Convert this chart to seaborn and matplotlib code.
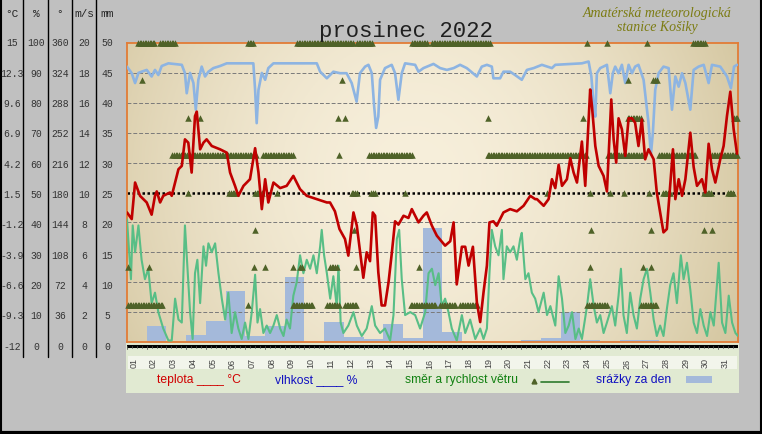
import numpy as np
import matplotlib
matplotlib.use("Agg")
import matplotlib.pyplot as plt
import seaborn as sns
from matplotlib.patches import Rectangle
from matplotlib.lines import Line2D

# ---- data ----
# temperature (°C), time in days since 1 Dec 00:00
temp_day = [0.00, 0.24, 0.41, 0.66, 1.00, 1.25, 1.42, 1.51, 1.68, 1.84, 2.18, 2.27, 2.44, 2.61, 2.78,
            2.94, 3.11, 3.28, 3.45, 3.54, 3.71, 3.88, 4.04, 4.30, 4.72, 5.06, 5.23, 5.48, 5.65, 5.91,
            6.24, 6.50, 6.67, 6.84, 7.01, 7.17, 7.43, 7.77, 8.10, 8.44, 8.78, 9.12, 9.63, 10.14, 10.30,
            10.55, 10.78, 11.06, 11.23, 11.49, 11.66, 11.91, 11.99, 12.16, 12.33, 12.47, 12.59, 12.75,
            12.92, 13.09, 13.27, 13.44, 13.60, 13.77, 14.03, 14.28, 14.45, 14.62, 14.79, 15.04, 15.21,
            15.47, 15.72, 16.14, 16.40, 16.57, 16.73, 16.99, 17.16, 17.33, 17.55, 17.75, 17.92, 18.09,
            18.26, 18.39, 18.59, 18.76, 19.10, 19.44, 19.78, 20.12, 20.46, 20.71, 20.80, 21.14, 21.39,
            21.56, 21.73, 21.90, 22.07, 22.32, 22.49, 22.66, 22.83, 23.08, 23.25, 23.42, 23.50, 23.59,
            23.76, 23.93, 24.18, 24.35, 24.57, 24.69, 24.82, 24.94, 25.11, 25.28, 25.45, 25.62, 25.78,
            25.95, 26.12, 26.29, 26.46, 26.72, 26.88, 27.05, 27.22, 27.39, 27.56, 27.70, 27.82, 27.99,
            28.16, 28.33, 28.58, 28.75, 28.92, 29.17, 29.34, 29.51, 29.68, 29.85, 30.10, 30.27, 30.44,
            30.61, 30.78, 30.95]
temp_c = [-0.3, -0.9, 2.4, 1.2, 0.6, -0.5, 1.2, 1.6, 0.6, 1.2, 1.5, 1.2, 2.4, 3.6, 3.9,
          6.3, 6.0, 3.3, 8.4, 8.8, 5.4, 6.0, 6.3, 5.7, 5.4, 5.1, 3.3, 2.1, 1.2, 2.1,
          2.7, 5.5, 3.3, 0.0, 2.7, 0.6, 2.4, 1.9, 2.1, 3.0, 1.8, 1.2, 0.9, 0.6, 0.6,
          -0.2, -1.8, -2.7, -4.2, -0.3, -1.5, -5.1, -6.2, -3.9, -4.7, -0.3, -0.6, -5.7,
          -8.7, -8.7, -6.6, -3.9, -1.1, -1.4, -0.6, -0.8, 0.0, -0.6, -1.2, -0.6, -0.3,
          -1.5, -2.4, -3.3, -2.9, -1.2, -6.8, -3.4, -3.4, -5.1, -3.4, -8.4, -10.2, -7.5,
          -5.1, -1.2, -1.1, -1.5, -0.3, 0.0, -0.2, 0.3, 1.2, 0.9, 0.9, 0.3, 0.9,
          2.7, 1.9, 4.0, 2.1, 2.7, 4.6, 3.3, 2.4, 6.1, 2.1, 8.1, 10.8, 9.3,
          5.7, 3.9, 3.0, 1.6, 9.9, 6.3, 4.2, 8.2, 7.2, 4.8, 8.2, 8.2, 7.8,
          5.7, 8.1, 4.5, 5.4, 4.5, 1.5, -0.3, -2.1, -1.8, 2.1, 5.4, 0.9, 2.7,
          1.2, 2.7, 6.9, 3.8, 2.1, 2.7, 1.5, 5.9, 3.6, 2.4, 4.5, 5.7, 8.4,
          10.6, 7.2, 5.0]

# relative humidity (%)
hum_day = [0.00, 0.24, 0.41, 0.58, 0.74, 1.00, 1.25, 1.42, 1.59, 1.76, 2.10, 2.78, 2.94, 3.03, 3.20,
           3.37, 3.49, 3.62, 3.79, 3.96, 4.13, 4.38, 4.72, 5.06, 6.41, 6.50, 6.58, 6.67, 6.84, 7.01,
           7.17, 7.43, 9.63, 9.80, 10.14, 10.47, 10.81, 11.14, 11.40, 11.65, 11.82, 12.08, 12.25,
           12.42, 12.54, 12.64, 12.75, 12.84, 13.09, 13.43, 13.60, 13.77, 13.94, 14.11, 14.62, 14.79,
           15.04, 15.55, 15.89, 16.23, 16.57, 16.90, 17.24, 17.75, 18.00, 18.26, 18.51, 18.59, 18.93,
           19.10, 19.44, 19.69, 20.03, 20.29, 20.63, 21.05, 21.56, 21.73, 23.08, 23.42, 23.56, 23.68,
           23.76, 23.84, 24.01, 24.35, 24.52, 24.65, 24.77, 24.94, 25.11, 25.28, 25.45, 25.62, 25.78,
           25.95, 26.21, 26.46, 26.58, 26.68, 26.80, 26.97, 27.22, 27.48, 27.65, 27.82, 27.99, 28.16,
           28.33, 28.58, 28.75, 29.00, 29.26, 29.51, 29.68, 30.10, 30.44, 30.64, 30.80, 30.95]
hum_pct = [92.1, 89.9, 86.6, 90.0, 90.4, 91.0, 88.8, 91.0, 89.3, 92.3, 93.2, 92.7, 89.9, 83.2, 90.0,
           86.6, 77.7, 87.7, 92.1, 88.8, 90.4, 91.6, 92.3, 93.2, 93.2, 84.3, 73.2, 84.3, 90.0, 87.7,
           91.6, 93.2, 93.2, 90.4, 88.2, 90.4, 89.9, 89.9, 86.6, 80.4, 89.9, 92.1, 92.7,
           89.9, 78.8, 71.6, 75.4, 87.7, 91.6, 92.7, 89.9, 81.0, 89.9, 93.2, 92.7, 90.4,
           91.6, 93.0, 91.6, 91.0, 91.6, 92.7, 91.6, 88.8, 92.1, 92.7, 92.1, 88.2, 88.2,
           90.4, 90.4, 89.3, 87.7, 91.0, 91.6, 92.7, 91.6, 92.7, 93.2, 93.8, 88.8, 78.8,
           75.4, 89.9, 91.6, 92.7, 83.2, 89.9, 92.1, 89.9, 92.7, 86.6, 92.7, 89.9, 92.1,
           92.7, 87.7, 73.2, 62.7, 69.9, 84.3, 89.9, 92.1, 91.6, 77.7, 88.8, 85.4, 89.9,
           86.6, 77.7, 91.0, 92.1, 92.7, 86.6, 92.7, 92.1, 88.8, 84.9, 92.1, 92.7]

# wind speed (m/s)
wind_day = [0.00, 0.12, 0.20, 0.29, 0.41, 0.58, 0.74, 0.91, 1.08, 1.25, 1.42, 1.59, 1.84, 2.10, 2.27,
            2.44, 2.61, 2.78, 2.94, 3.03, 3.20, 3.33, 3.45, 3.57, 3.71, 3.88, 4.01, 4.13, 4.30, 4.47,
            4.64, 4.81, 4.98, 5.14, 5.31, 5.48, 5.65, 5.82, 5.99, 6.16, 6.33, 6.50, 6.62, 6.75, 6.92,
            7.09, 7.26, 7.43, 7.60, 7.77, 7.94, 8.10, 8.27, 8.44, 8.61, 8.78, 8.95, 9.12, 9.29, 9.46,
            9.63, 9.80, 9.88, 10.00, 10.14, 10.31, 10.47, 10.64, 10.73, 10.84, 10.98, 11.23, 11.49,
            11.66, 11.91, 12.16, 12.42, 12.59, 12.84, 13.09, 13.35, 13.52, 13.69, 13.81, 13.94, 14.11,
            14.37, 14.62, 14.87, 15.13, 15.30, 15.47, 15.64, 15.81, 15.97, 16.14, 16.31, 16.48, 16.73,
            16.99, 17.16, 17.41, 17.67, 17.92, 18.09, 18.26, 18.39, 18.51, 18.68, 18.85, 19.02, 19.10,
            19.27, 19.44, 19.61, 19.78, 19.95, 20.03, 20.21, 20.37, 20.54, 20.71, 20.88, 21.14, 21.31,
            21.48, 21.73, 21.90, 22.07, 22.24, 22.41, 22.58, 22.75, 22.92, 23.08, 23.34, 23.50, 23.68,
            23.84, 24.01, 24.18, 24.35, 24.60, 24.77, 24.94, 25.06, 25.19, 25.36, 25.53, 25.70, 25.87,
            26.04, 26.21, 26.38, 26.55, 26.72, 26.88, 27.05, 27.22, 27.39, 27.56, 27.73, 27.90, 28.10,
            28.24, 28.41, 28.58, 28.75, 28.92, 29.09, 29.26, 29.43, 29.60, 29.77, 30.02, 30.19, 30.36,
            30.53, 30.70, 30.87, 31.00]
wind_ms = [8.2, 5.8, 4.2, 7.8, 6.0, 7.8, 5.5, 4.2, 4.9, 2.6, 3.3, 2.0, 0.9, 0.1, 0.1,
           2.9, 1.5, 1.3, 7.8, 5.8, 2.0, 0.2, 4.6, 5.5, 2.6, 6.4, 5.1, 6.6, 6.0, 6.6,
           4.6, 2.9, 1.5, 3.3, 0.6, 2.0, 0.9, 0.2, 1.3, 0.2, 2.0, 4.5, 1.3, 2.2, 0.6,
           1.1, 0.6, 1.1, 1.8, 0.9, 0.4, 1.5, 0.9, 3.1, 4.0, 5.8, 4.6, 5.5, 4.9, 5.8,
           4.6, 6.4, 7.5, 5.8, 4.6, 2.9, 4.4, 2.4, 5.1, 1.3, 0.6, 1.1, 2.0,
           1.1, 0.4, 0.9, 2.4, 1.1, 0.6, 0.9, 0.1, 1.8, 6.9, 7.5, 4.2, 1.8,
           2.0, 1.8, 0.9, 2.0, 4.6, 4.9, 3.8, 4.6, 2.4, 2.9, 2.0, 0.9, 0.1,
           1.8, 0.6, 1.5, 0.2, 0.9, 0.2, 0.9, 4.6, 7.5, 6.4, 5.8, 7.5, 4.2,
           6.4, 6.0, 6.4, 5.5, 6.9, 7.3, 4.2, 4.6, 3.3, 2.9, 2.0, 3.3, 1.8,
           2.4, 1.1, 4.4, 2.9, 0.6, 1.1, 2.0, 0.2, 0.9, 0.2, 2.4, 4.2, 2.4,
           1.3, 1.8, 0.6, 1.3, 2.4, 1.1, 3.1, 4.9, 1.8, 0.6, 3.3, 1.8, 0.9,
           2.9, 4.2, 4.9, 3.3, 1.5, 0.4, 1.1, 0.4, 2.2, 3.8, 4.6, 2.6, 5.8,
           4.2, 5.3, 3.5, 1.3, 0.6, 2.2, 1.1, 0.4, 2.0, 1.1, 5.3, 1.3, 0.6,
           3.1, 1.3, 0.6, 0.4]

# wind direction runs: start day, end day, direction (deg)
dir_start = [0.56, 1.68, 6.14, 8.63, 11.68, 14.47, 15.48, 23.35, 24.37, 26.40, 28.73,
             0.75, 10.90, 25.40, 26.70,
             3.10, 3.70, 10.70, 11.06, 18.30, 23.15, 25.40, 30.80,
             2.30, 6.90, 10.75, 12.30, 18.30, 24.40, 27.00, 29.60,
             3.10, 5.20, 6.50, 7.60, 11.40, 12.40, 14.10, 21.30, 23.50, 24.50, 25.20, 26.50, 27.20,
             29.30, 30.50,
             6.50, 11.50, 23.55, 26.60, 29.30, 29.70,
             0.05, 1.10, 6.45, 7.00, 8.40, 8.80, 10.30, 11.60, 14.80, 23.50, 26.20, 26.60,
             0.05, 6.15, 8.40, 10.15, 11.06, 14.40, 15.90, 16.90, 23.35, 26.10]
dir_end = [1.42, 2.44, 6.40, 11.47, 12.49, 15.28, 18.43, 23.35, 24.37, 26.40, 29.34,
           0.75, 10.90, 25.40, 26.90,
           3.10, 3.70, 10.70, 11.06, 18.30, 23.15, 26.10, 31.00,
           6.60, 8.40, 10.75, 14.50, 23.35, 26.20, 28.90, 31.00,
           3.10, 5.60, 6.90, 7.60, 11.70, 12.60, 14.10, 21.30, 23.50, 24.50, 25.20, 26.50, 27.60,
           29.70, 30.80,
           6.50, 11.50, 23.55, 26.60, 29.30, 29.70,
           0.05, 1.10, 6.45, 7.00, 8.40, 8.90, 10.70, 11.60, 14.80, 23.50, 26.20, 26.60,
           1.80, 6.15, 9.40, 10.80, 11.70, 15.70, 16.65, 17.80, 24.40, 26.90]
dir_deg = [360] * 11 + [315] * 4 + [270] * 8 + [225] * 8 + [180] * 15 + [135] * 6 + [90] * 12 + [45] * 10

# daily precipitation (mm), days 1..31
days = list(range(1, 32))
precip_mm = [0, 2.7, 0, 1.2, 3.5, 8.5, 1.0, 2.7, 10.8, 0, 3.4, 0.9, 0.5, 3.0, 0.7, 19.1,
             1.7, 0, 0, 0, 0.3, 0.6, 5.0, 0.4, 0, 0.3, 0.4, 0, 0, 0, 0]

# scale table on the left
col_heads = ['°C', '%', '°', 'm/s', 'mm']
scale_c = ['15', '12.3', '9.6', '6.9', '4.2', '1.5', '-1.2', '-3.9', '-6.6', '-9.3', '-12']
scale_pct = ['100', '90', '80', '70', '60', '50', '40', '30', '20', '10', '0']
scale_deg = ['360', '324', '288', '252', '216', '180', '144', '108', '72', '36', '0']
scale_ms = ['20', '18', '16', '14', '12', '10', '8', '6', '4', '2', '0']
scale_mm = ['50', '45', '40', '35', '30', '25', '20', '15', '10', '5', '0']
day_labels = ['%02d' % d for d in days]

# ---- convert everything to the common 0..100 scale ----
temp_y = (np.array(temp_c) + 12) / 27 * 100
wind_y = np.array(wind_ms) * 5
precip_y = np.array(precip_mm) * 2

dir_t, dir_y = [], []
for a, b, d in zip(dir_start, dir_end, dir_deg):
    tt = np.arange(a, b + 1e-6, 1 / 12) if b > a else np.array([a])
    dir_t.extend(tt)
    dir_y.extend([d / 3.6] * len(tt))

W, H = 762, 435


def fx(px):
    return px / W


def fy(py):
    return 1 - py / H


sns.set_theme(style="white")
plt.rcParams['font.family'] = ['Liberation Sans', 'DejaVu Sans']

fig = plt.figure(figsize=(W / 100, H / 100), dpi=100, facecolor='#c0c0c0')

# lower panel (x labels + legend)
fig.add_artist(Rectangle((fx(126), fy(394)), (739 - 126) / W, (394 - 343) / H,
                         transform=fig.transFigure, facecolor='#e1ead2', edgecolor='none', zorder=-2))
fig.add_artist(Rectangle((fx(128), fy(370)), (737 - 128) / W, (370 - 357) / H,
                         transform=fig.transFigure, facecolor='#f2f5eb', edgecolor='none', zorder=-1))

ax = fig.add_axes([fx(127), fy(343), (738 - 127) / W, (343 - 44) / H])

# beige gradient background
gx, gy = np.meshgrid(np.linspace(0, 1, 240), np.linspace(0, 1, 120))
r = np.clip(np.sqrt(((gx - 0.47) / 0.6) ** 2 + ((gy - 0.55) / 1.3) ** 2), 0, 1)
c_in = np.array([247, 239, 219]) / 255
c_out = np.array([210, 196, 157]) / 255
img = c_in + (c_out - c_in) * (r[..., None] ** 1.8)
ax.imshow(img, extent=[0, 31, 0, 100], aspect='auto', origin='lower', zorder=0)

ax.bar(np.array(days) - 0.5, precip_y, width=1.0, color='#a4b9da', linewidth=0, zorder=1)

for v in range(10, 100, 10):
    if v == 50:
        ax.axhline(v, color='black', lw=1.8, ls=(0, (1, 1)), zorder=2)
    else:
        ax.axhline(v, color='#7a7a7a', lw=0.7, ls=(0, (4, 2)), zorder=2)

sns.lineplot(x=wind_day, y=wind_y, ax=ax, color='#58be86', lw=1.5, sort=False, estimator=None,
             legend=False, zorder=3)
sns.lineplot(x=hum_day, y=hum_pct, ax=ax, color='#8db4e2', lw=1.9, sort=False, estimator=None,
             legend=False, zorder=4)
sns.scatterplot(x=dir_t, y=dir_y, ax=ax, marker='^', s=22, color='#4f6228', linewidth=0,
                legend=False, zorder=5, clip_on=False)
sns.lineplot(x=temp_day, y=temp_y, ax=ax, color='#c00000', lw=1.9, sort=False, estimator=None,
             legend=False, zorder=6)

ax.set_xlim(0, 31)
ax.set_ylim(0, 100)
ax.set_xticks([])
ax.set_yticks([])
ax.set_xlabel('')
ax.set_ylabel('')
for s in ax.spines.values():
    s.set_color('#e27c36')
    s.set_linewidth(1.3)
    s.set_visible(True)

# x axis strip
axb = fig.add_axes([fx(127), fy(357), (738 - 127) / W, (357 - 344) / H])
axb.set_xlim(0, 31)
axb.set_ylim(0, 13)
axb.axis('off')
axb.axhline(10, color='black', lw=2.2)
for q in np.arange(0, 31.01, 0.25):
    axb.plot([q, q], [10, 7.5 if abs(q - round(q)) < 1e-6 else 8.3], color='#555555', lw=0.6)

for d, lab in zip(days, day_labels):
    fig.text(fx(127 + (d - 0.65) * 611 / 31), fy(363.5), lab, rotation=90, ha='center', va='center',
             fontsize=6.5, color='#444444')

# legend row
ly = fy(380)
fig.text(fx(157), ly, 'teplota ____ °C', color='#d00000', fontsize=8.7, va='center')
fig.text(fx(275), ly, 'vlhkost ____ %', color='#1010c0', fontsize=8.7, va='center')
fig.text(fx(405), ly, 'směr a rychlost větru', color='#108010', fontsize=8.7, va='center')
fig.add_artist(Line2D([fx(534)], [fy(382)], marker='^', markersize=3.5, color='#4f6228',
                      transform=fig.transFigure, linestyle='none'))
fig.add_artist(Line2D([fx(541), fx(569)], [fy(383), fy(383)], color='#2d7a2d', lw=1.2,
                      transform=fig.transFigure))
fig.text(fx(596), ly, 'srážky za den', color='#1010c0', fontsize=8.7, va='center')
fig.add_artist(Rectangle((fx(686), fy(384)), 26 / W, 7 / H, transform=fig.transFigure,
                         facecolor='#a4b9da', edgecolor='none'))

# title and station name
fig.text(fx(406), fy(37), 'prosinec 2022', family='Liberation Mono', fontsize=16,
         ha='center', va='baseline', color='#202020')
fig.text(fx(657), fy(13), 'Amatérská meteorologická', family='Liberation Serif', style='italic',
         fontsize=10, ha='center', va='center', color='#7c7c12')
fig.text(fx(657), fy(28), 'stanice Košiky', family='Liberation Serif', style='italic',
         fontsize=10, ha='center', va='center', color='#7c7c12')

# scale table on the left
col_x = [12, 36, 60, 84, 107]
for cx, head, col in zip(col_x, col_heads,
                         [scale_c, scale_pct, scale_deg, scale_ms, scale_mm]):
    fig.text(fx(cx), fy(14), head, family='Liberation Mono', fontsize=8, ha='center',
             va='center', color='#222222')
    for i, lab in enumerate(col):
        fig.text(fx(cx), fy(43.5 + 30.3 * i), lab, family='Liberation Mono', fontsize=7,
                 ha='center', va='center', color='#333333')
for vx in [23, 48, 72, 96]:
    fig.add_artist(Line2D([fx(vx), fx(vx)], [fy(0), fy(358)], color='black', lw=1,
                          transform=fig.transFigure))

# black frame on left, right and bottom
fig.add_artist(Line2D([fx(0.5), fx(0.5)], [0, 1], color='black', lw=1.5, transform=fig.transFigure))
fig.add_artist(Line2D([fx(761), fx(761)], [0, 1], color='black', lw=1.5, transform=fig.transFigure))
fig.add_artist(Line2D([0, 1], [fy(433.5), fy(433.5)], color='black', lw=3, transform=fig.transFigure))

fig.savefig('out.png', dpi=100, facecolor=fig.get_facecolor())
